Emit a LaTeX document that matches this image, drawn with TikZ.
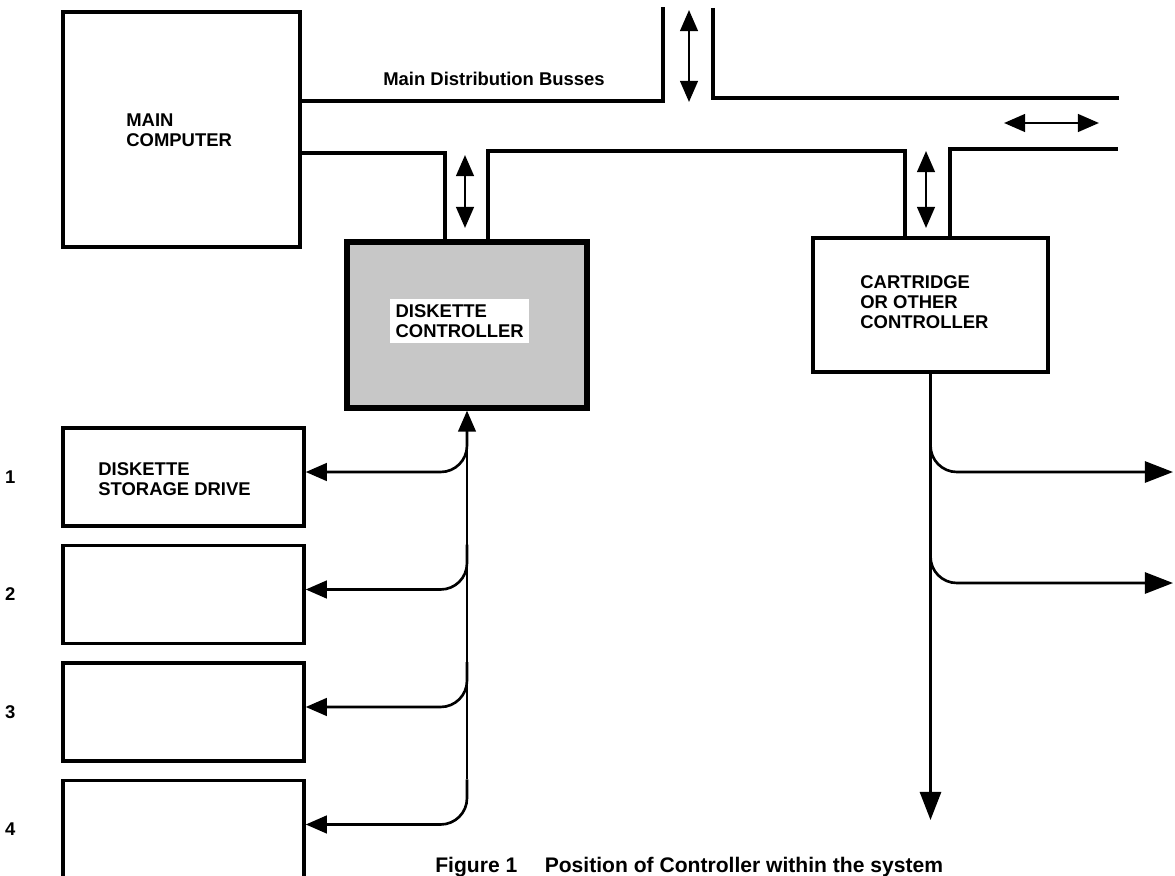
\documentclass[tikz,border=0pt]{standalone}
\usepackage{fontspec}
\setmainfont{Liberation Sans}
\usetikzlibrary{arrows.meta,positioning}
\tikzset{
  unit/.style={draw,line width=2pt,inner sep=0pt},
  drive/.style={unit,minimum width=4.82cm,minimum height=1.96cm},
  lbl/.style={font=\fontsize{10.5}{11.3}\selectfont\bfseries,align=left,inner sep=0pt,anchor=west},
  num/.style={font=\fontsize{10.5}{12}\selectfont\bfseries,inner sep=0pt},
  bus/.style={line width=2pt},
  link/.style={line width=1.5pt},
  heavy/.style={>={Triangle[length=16pt,width=12pt]}},
}

\begin{document}
\begin{tikzpicture}[x=0.02cm,y=-0.02cm,>={Triangle[length=12pt,width=10pt]}]
  \useasboundingbox (0,0) rectangle (1175,875);
  \node[unit,minimum width=4.74cm,minimum height=4.7cm] (comp) at (181.5,129.5) {};
  \node[unit,line width=3pt,fill=black!22,minimum width=4.8cm,minimum height=3.32cm] (ctrl) at (467,325) {};
  \node[unit,minimum width=4.7cm,minimum height=2.68cm] (cart) at (930.5,305) {};
  \node[drive] (d1) at (183.5,477) {};
  \foreach \i/\j in {2/1,3/2,4/3}
    \node[drive,below=0.32cm of d\j] (d\i) {};
  \foreach \i in {1,...,4}
    \node[num,left=0.91cm of d\i] (n\i) {\i};

  \node[lbl] (comptxt) at (126,130) {MAIN\\COMPUTER};
  \node[lbl,fill=white,inner sep=3pt] (ctrltxt) at (390,321) {DISKETTE\\CONTROLLER};
  \node[lbl] (carttxt) at (860,302) {CARTRIDGE\\OR OTHER\\CONTROLLER};
  \node[lbl] (d1txt) at (98,479) {DISKETTE\\STORAGE DRIVE};
  \node[lbl,font=\fontsize{10.5}{12}\selectfont\bfseries] (bustxt) at (383,79) {Main Distribution Busses};
  \node[font=\fontsize{12}{14}\selectfont\bfseries,anchor=base west,inner sep=0pt] (caption) at (435,872)
    {Figure 1\hspace{1.3em}Position of Controller within the system};

  \draw[bus] (comp.east |- 0,101) -- (663,101) -- (663,7);
  \draw[bus] (713,8) -- (713,98) -- (1119,98);
  \draw[bus] (comp.east |- 0,153) -- (445,153) -- (445,0 |- ctrl.north);
  \draw[bus] (488,0 |- ctrl.north) -- (488,151) -- (905,151) -- (905,0 |- cart.north);
  \draw[bus] (950,0 |- cart.north) -- (950,149) -- (1118,149);
  \draw[link,<->] (689,10) -- (689,102);
  \draw[link,<->] (465,155) -- (465,228);
  \draw[link,<->] (926,151) -- (926,228);
  \draw[link,<->] (1004,123) -- (1099,123);

  \draw[link,->] ([yshift=1cm]ctrl.south |- d4.east) -- (ctrl.south);
  \foreach \i in {1,...,4}
    \draw[link,->,rounded corners=15pt] ([yshift=1cm]ctrl.south |- d\i.east) |- ([yshift=1mm]d\i.east);

  \coordinate (r1) at (1173,472);
  \coordinate (r2) at (1173,583);
  \coordinate (sink) at (cart.south |- 0,820);
  \draw[link,heavy,->] (cart.south) -- (sink);
  \foreach \i in {1,2}
    \draw[link,heavy,->,rounded corners=15pt] ([yshift=0.9cm]cart.south |- r\i) |- (r\i);
\end{tikzpicture}
\end{document}
